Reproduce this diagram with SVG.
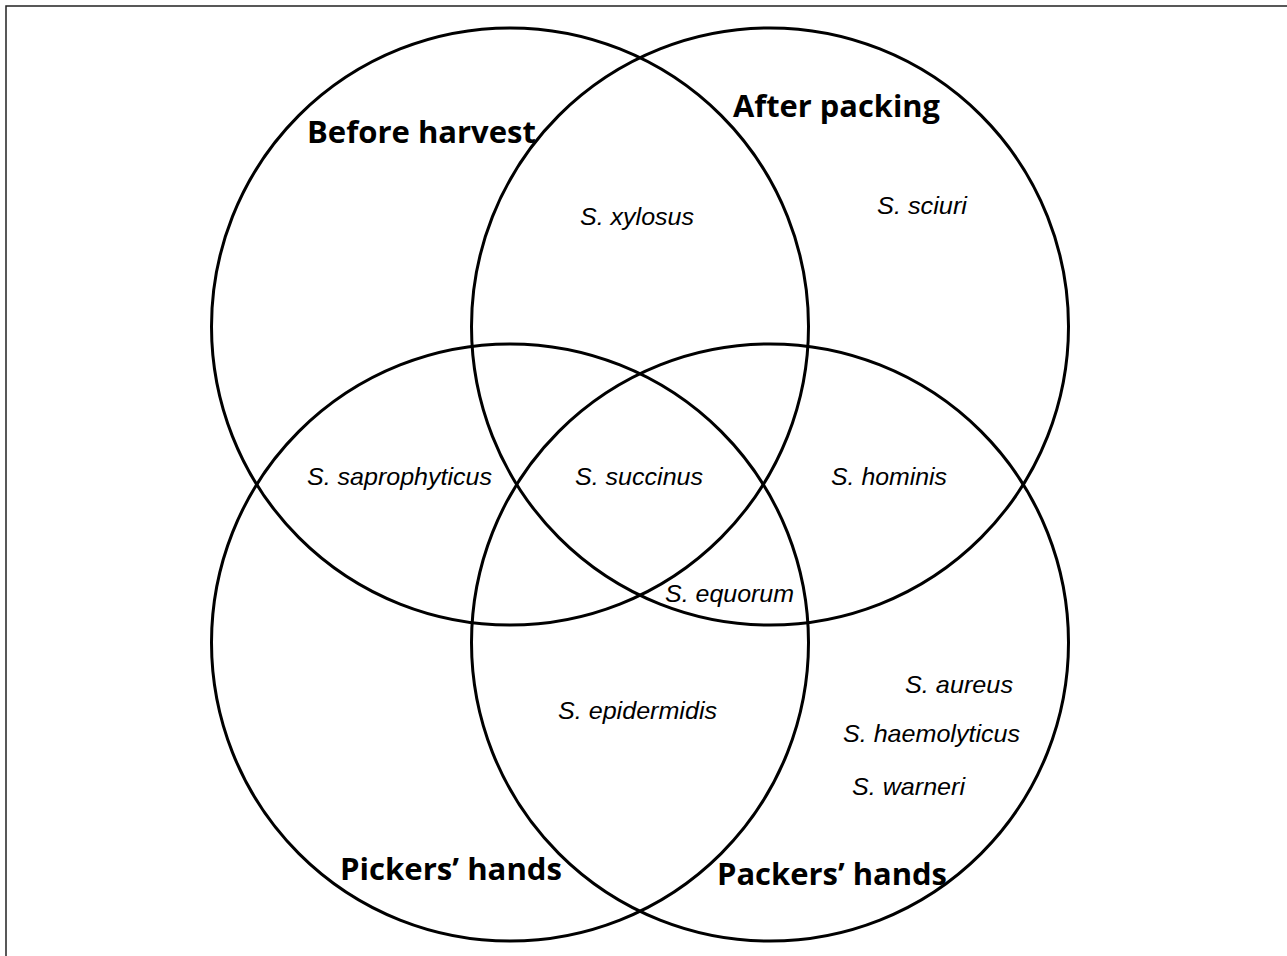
<svg xmlns="http://www.w3.org/2000/svg" width="1287" height="956" viewBox="0 0 1287 956">
<style>
.c{fill:none;stroke:#000;stroke-width:3}
.t{font-family:"Open Sans","Liberation Sans",sans-serif;font-weight:bold;font-size:31px;fill:#000}
.s{font-family:"Liberation Sans",Arial,sans-serif;font-style:italic;font-size:24px;fill:#000}
</style>
<rect x="0" y="0" width="1287" height="956" fill="#fff"/>
<rect x="6" y="6" width="1300" height="970" fill="none" stroke="#222" stroke-width="1.5"/>
<g id="connectors"></g>
<g id="set-before-harvest">
<circle class="c" cx="510" cy="326.5" r="298.5"/>
<text class="t" x="307" y="143" textLength="229" lengthAdjust="spacingAndGlyphs">Before harvest</text>
</g>
<g id="set-after-packing">
<circle class="c" cx="770" cy="326.5" r="298.5"/>
<text class="t" x="733" y="117" textLength="207" lengthAdjust="spacingAndGlyphs">After packing</text>
</g>
<g id="set-pickers-hands">
<circle class="c" cx="510" cy="642.5" r="298.5"/>
<text class="t" x="340" y="880" textLength="222" lengthAdjust="spacingAndGlyphs">Pickers’ hands</text>
</g>
<g id="set-packers-hands">
<circle class="c" cx="770" cy="642.5" r="298.5"/>
<text class="t" x="717" y="885" textLength="230" lengthAdjust="spacingAndGlyphs">Packers’ hands</text>
</g>
<g id="species">
<text class="s" x="580" y="225" textLength="114" lengthAdjust="spacingAndGlyphs">S. xylosus</text>
<text class="s" x="877" y="214" textLength="90" lengthAdjust="spacingAndGlyphs">S. sciuri</text>
<text class="s" x="307" y="485" textLength="185" lengthAdjust="spacingAndGlyphs">S. saprophyticus</text>
<text class="s" x="575" y="485" textLength="128" lengthAdjust="spacingAndGlyphs">S. succinus</text>
<text class="s" x="831" y="485" textLength="116" lengthAdjust="spacingAndGlyphs">S. hominis</text>
<text class="s" x="665" y="602" textLength="129" lengthAdjust="spacingAndGlyphs">S. equorum</text>
<text class="s" x="558" y="719" textLength="159" lengthAdjust="spacingAndGlyphs">S. epidermidis</text>
<text class="s" x="905" y="693" textLength="108" lengthAdjust="spacingAndGlyphs">S. aureus</text>
<text class="s" x="843" y="742" textLength="177" lengthAdjust="spacingAndGlyphs">S. haemolyticus</text>
<text class="s" x="852" y="795" textLength="113" lengthAdjust="spacingAndGlyphs">S. warneri</text>
</g>
</svg>
